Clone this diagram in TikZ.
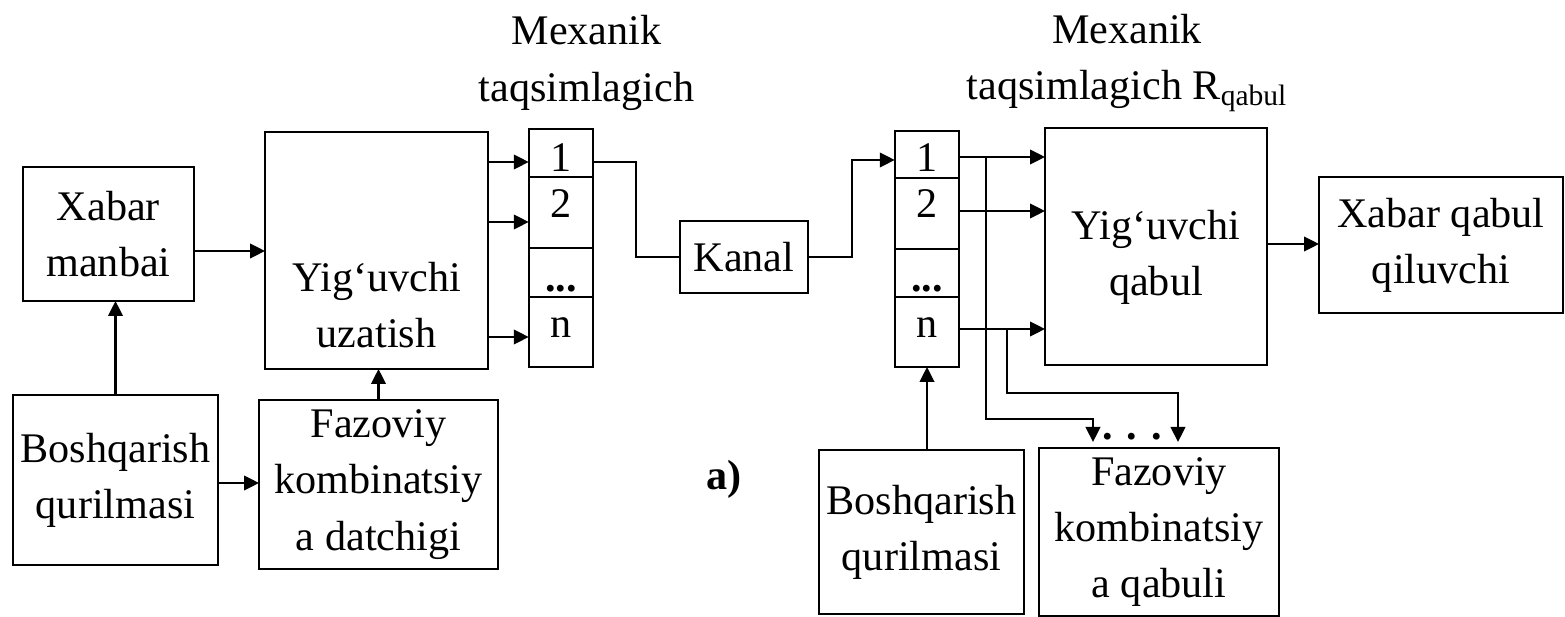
\documentclass[tikz,border=0pt]{standalone}
\usepackage{fontspec}
\setmainfont{Liberation Serif}
\usetikzlibrary{arrows.meta, positioning}
\tikzset{
  >={Triangle[length=3mm,width=2.9mm]},
  font=\fontsize{24}{32}\selectfont,
  blk/.style={draw, line width=1pt, align=center, inner sep=0pt, outer sep=0pt},
  cell/.style={draw, line width=1pt, minimum width=1.29cm, minimum height=#1,
    inner sep=0pt, outer sep=0pt},
  txt/.style={align=center, inner sep=0pt},
  num/.style={anchor=base, inner sep=0pt},
  arr/.style={->, line width=1.4pt},
  wire/.style={line width=1pt}
}
\begin{document}
\begin{tikzpicture}[x=0.02cm, y=-0.02cm]
  \useasboundingbox (0,0) rectangle (1565,617);
  % transmitting side
  \node[blk, minimum width=3.42cm, minimum height=2.68cm] (srcBox) at (108.5,234) {Xabar\\manbai};
  \node[blk, minimum width=4.46cm, minimum height=4.74cm] (yigU) at (376.5,250.5) {};
  \node[txt] (yigUt) at (376.5,305) {Yig‘uvchi\\uzatish};
  \node[blk, minimum width=4.10cm, minimum height=3.40cm] (ctlL) at (115.5,480) {Boshqarish\\qurilmasi};
  \node[blk, minimum width=4.78cm, minimum height=3.38cm] (fazL) at (378.5,484.5) {Fazoviy\\kombinatsiy\\a datchigi};
  \node[txt] (ttlL) at (586.5,63) {Mexanik\\taqsimlagich};
  \node[cell=0.96cm, anchor=north] (dL1) at (561,129) {};
  \node[cell=1.42cm, below=0pt of dL1] (dL2) {};
  \node[cell=0.98cm, below=0pt of dL2] (dL3) {};
  \node[cell=1.40cm, below=0pt of dL3] (dL4) {};
  \node[num] (nL1) at (561,172) {1};
  \node[num] (nL2) at (561,218) {2};
  \node[num] (nL3) at (561,292) {\textbf{...}};
  \node[num] (nL4) at (561,338) {n};
  % channel
  \node[blk, minimum width=2.56cm, minimum height=1.44cm] (kanal) at (744,257) {Kanal};
  % receiving side
  \node[txt] (ttlR) at (1127,63) {Mexanik\\taqsimlagich R\textsubscript{qabul}};
  \node[cell=0.94cm, anchor=north] (dR1) at (927,131) {};
  \node[cell=1.42cm, below=0pt of dR1] (dR2) {};
  \node[cell=0.96cm, below=0pt of dR2] (dR3) {};
  \node[cell=1.40cm, below=0pt of dR3] (dR4) {};
  \node[num] (nR1) at (927,172) {1};
  \node[num] (nR2) at (927,218) {2};
  \node[num] (nR3) at (927,292) {\textbf{...}};
  \node[num] (nR4) at (927,338) {n};
  \node[blk, minimum width=4.44cm, minimum height=4.74cm] (yigQ) at (1156,246.5) {};
  \node[txt] (yigQt) at (1156,257) {Yig‘uvchi\\qabul};
  \node[blk, minimum width=4.88cm, minimum height=2.72cm] (dstBox) at (1441,245) {Xabar qabul\\qiluvchi};
  \node[blk, minimum width=4.10cm, minimum height=3.28cm] (ctlR) at (921.5,532) {Boshqarish\\qurilmasi};
  \node[blk, minimum width=4.80cm, minimum height=3.36cm] (fazR) at (1159,532) {Fazoviy\\kombinatsiy\\a qabuli};
  \node[num] (gapR) at (1132,440) {\textbf{. . .}};
  \node[num, font=\fontsize{24}{32}\selectfont\bfseries] (lblA) at (724,490) {a)};
  \coordinate (tapA) at (986,157);
  \coordinate (dropA) at (1093,442);
  \coordinate (tapB) at (1007,329);
  \coordinate (dropB) at (1178,442);

  % connectors
  \draw[arr] (srcBox.east |- 0,251) -- (yigU.west |- 0,251);
  \draw[arr] (ctlL.north) -- (ctlL.north |- srcBox.south);
  \draw[arr] (ctlL.east |- 0,483) -- (fazL.west |- 0,483);
  \draw[arr] (fazL.north) -- (fazL.north |- yigU.south);
  \draw[arr] (yigU.east |- 0,162) -- (dL1.west |- 0,162);
  \draw[arr] (yigU.east |- 0,222) -- (dL2.west |- 0,222);
  \draw[arr] (yigU.east |- 0,337) -- (dL4.west |- 0,337);
  \draw[wire] (dL1.east |- 0,162) -| (kanal.west -| 636,0) -- (kanal.west);
  \draw[arr] (kanal.east) -| (852,160) -- (dR1.west |- 0,160);
  \draw[arr] (dR1.east |- 0,157) -- (yigQ.west |- 0,157);
  \draw[arr] (dR2.east |- 0,211) -- (yigQ.west |- 0,211);
  \draw[arr] (dR4.east |- 0,329) -- (yigQ.west |- 0,329);
  \draw[arr] (yigQ.east |- 0,244) -- (dstBox.west |- 0,244);
  \draw[arr] (ctlR.north -| dR4.south) -- (dR4.south);
  \draw[arr] (tapA) |- (dropA |- 0,419) -- (dropA);
  \draw[arr] (tapB) |- (dropB |- 0,393) -- (dropB);
\end{tikzpicture}
\end{document}
